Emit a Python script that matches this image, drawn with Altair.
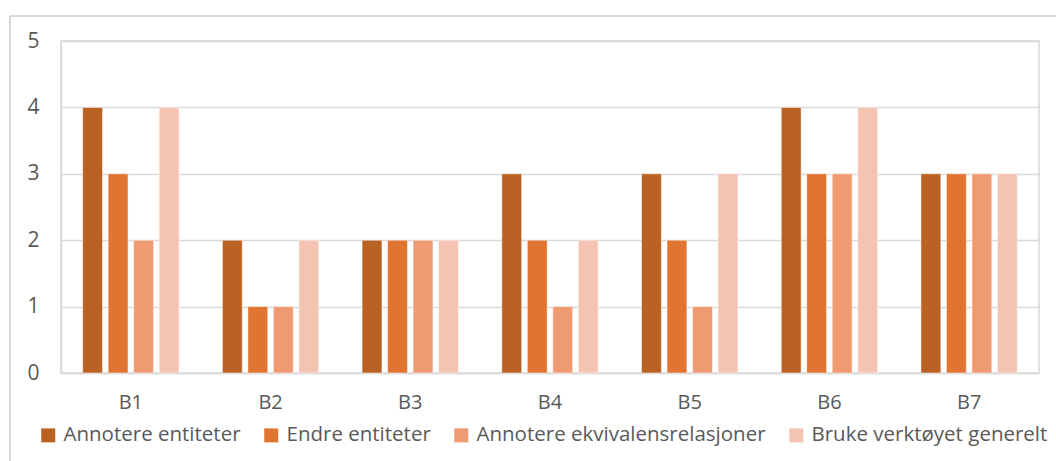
import altair as alt
import pandas as pd

groups = ["B1", "B2", "B3", "B4", "B5", "B6", "B7"]
series = [
    "Annotere entiteter",
    "Endre entiteter",
    "Annotere ekvivalensrelasjoner",
    "Bruke verktøyet generelt",
]
annotere_entiteter = [4, 2, 2, 3, 3, 4, 3]
endre_entiteter = [3, 1, 2, 2, 2, 3, 3]
annotere_ekvivalens = [2, 1, 2, 1, 1, 3, 3]
bruke_verktoyet = [4, 2, 2, 2, 3, 4, 3]
colors = ["#BA6124", "#DF7530", "#F09A72", "#F5C3B1"]

values = [annotere_entiteter, endre_entiteter, annotere_ekvivalens, bruke_verktoyet]
rows = []
for s, vals in zip(series, values):
    for g, v in zip(groups, vals):
        rows.append({"gruppe": g, "serie": s, "verdi": v})
df = pd.DataFrame(rows)

FONT = "Open Sans"
TEXT = "#595959"
GRID = "#D9D9D9"

bars = alt.Chart(df).mark_bar(stroke="white", strokeWidth=0.5).encode(
    x=alt.X(
        "gruppe:N",
        sort=groups,
        title=None,
        scale=alt.Scale(paddingInner=0.31, paddingOuter=0.155),
        axis=alt.Axis(
            labelAngle=0, labelFontSize=20, labelColor=TEXT, labelFont=FONT,
            labelPadding=19, ticks=False, domainColor=GRID, domainWidth=1.5,
        ),
    ),
    xOffset=alt.XOffset(
        "serie:N", sort=series,
        scale=alt.Scale(paddingInner=0.22, paddingOuter=0.0),
    ),
    y=alt.Y(
        "verdi:Q",
        title=None,
        scale=alt.Scale(domain=[0, 5], nice=False),
        axis=alt.Axis(
            values=[0, 1, 2, 3, 4, 5], labelFontSize=21, labelColor=TEXT,
            labelFont=FONT, labelPadding=22, ticks=False, domainColor=GRID,
            domainWidth=1.5, gridColor=GRID, gridWidth=1.5,
        ),
    ),
    color=alt.Color(
        "serie:N", sort=series,
        scale=alt.Scale(domain=series, range=colors),
        legend=alt.Legend(
            title=None, orient="none", legendX=-23, legendY=384,
            direction="horizontal", columns=4, symbolType="square",
            symbolSize=196, symbolStrokeWidth=0, labelFontSize=20.5,
            labelFont=FONT, labelColor=TEXT, columnPadding=20, labelOffset=5,
            labelLimit=500, symbolOpacity=1,
        ),
    ),
)

# outer chart frame (left and top edges)
frame_left = alt.Chart(df).mark_rule(color=GRID, strokeWidth=2, clip=False).encode(
    x=alt.value(-51), y=alt.value(-25), y2=alt.value(430)
)
frame_top = alt.Chart(df).mark_rule(color=GRID, strokeWidth=2, clip=False).encode(
    x=alt.value(-51), x2=alt.value(1000), y=alt.value(-25)
)

chart = alt.layer(frame_left, frame_top, bars).properties(
    width=978,
    height=332,
    autosize=alt.AutoSizeParams(type="none"),
    padding={"left": 61, "top": 41, "right": 17, "bottom": 88},
    background="white",
).configure_view(stroke=GRID, strokeWidth=1.5)

chart.save("out.html", embed_options={"renderer": "svg", "actions": False})
